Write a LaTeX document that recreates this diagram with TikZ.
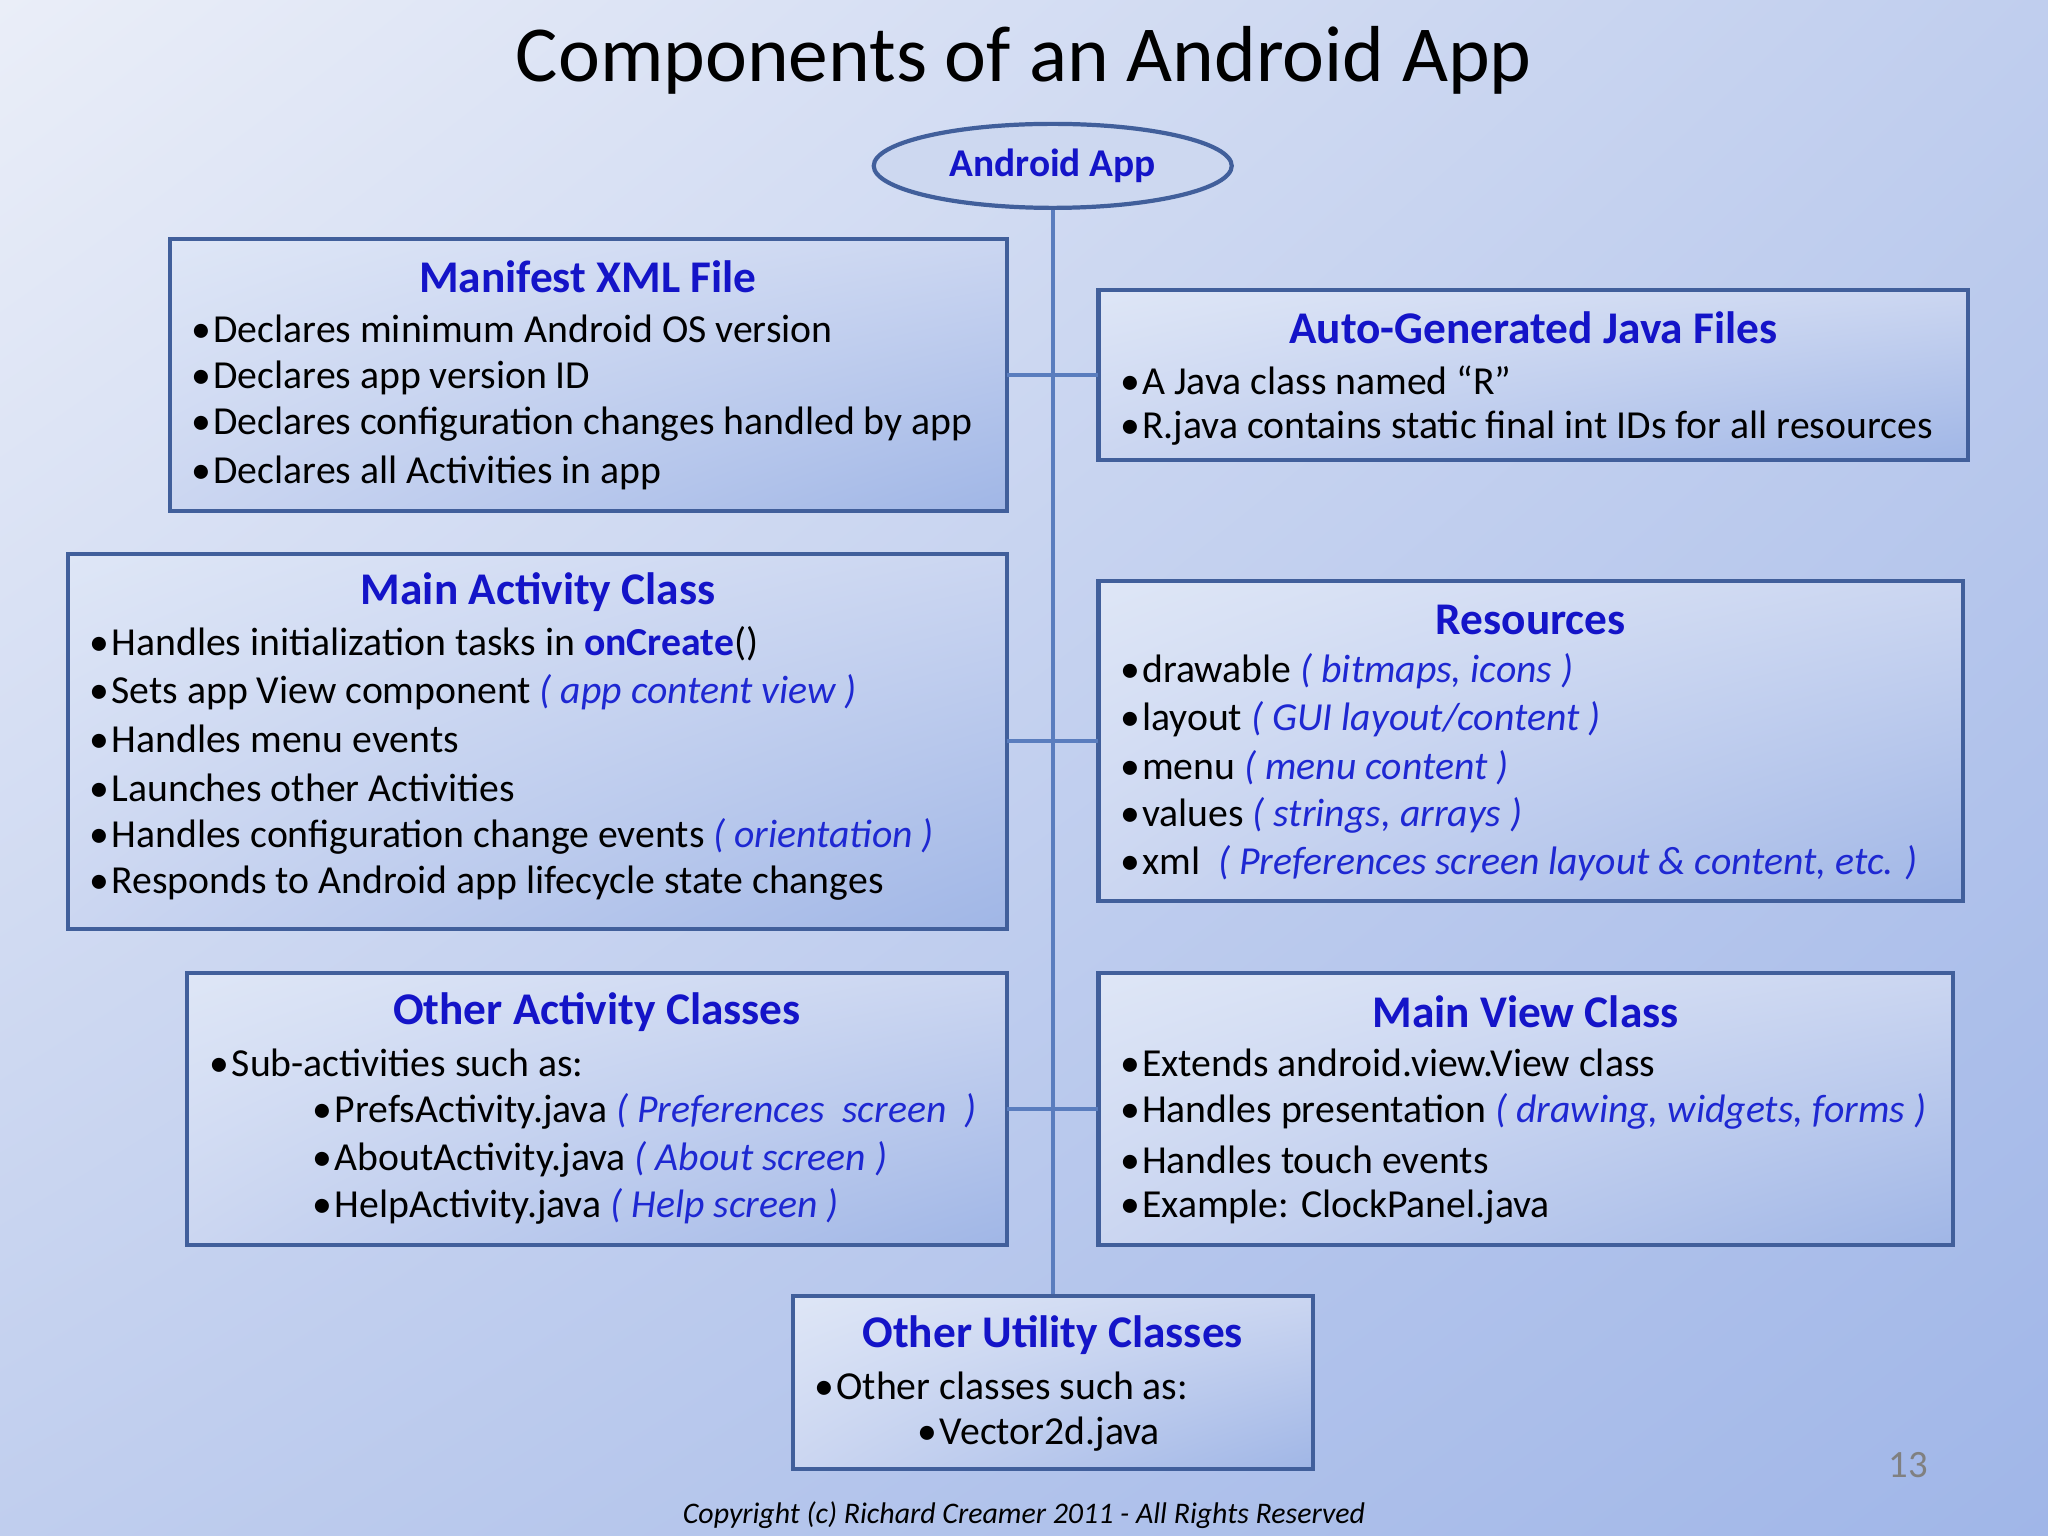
\documentclass[tikz,border=0pt]{standalone}
\usepackage{fontspec}
\usetikzlibrary{shadings,shapes.geometric}
\setmainfont{Carlito}
\definecolor{tb}{RGB}{20,20,200}
\definecolor{ib}{RGB}{30,40,210}
\definecolor{bd}{RGB}{65,95,155}
\definecolor{ln}{RGB}{90,125,190}
\definecolor{bg1}{RGB}{234,238,248}
\definecolor{bg2}{RGB}{192,206,238}
\definecolor{bg3}{RGB}{160,182,232}
\definecolor{bx1}{RGB}{222,230,246}
\definecolor{bx2}{RGB}{203,214,241}
\definecolor{bx3}{RGB}{160,182,230}
\definecolor{el}{RGB}{205,216,240}
\tikzset{
  boxsh/.style={draw=bd,line width=1.2pt,upper left=bx1,upper right=bx2,lower left=bx2,lower right=bx3},
  ttl/.style={text=tb,font=\fontsize{12.9pt}{15pt}\selectfont\bfseries,inner sep=0pt},
  txt/.style={font=\fontsize{11.3pt}{13pt}\selectfont,anchor=west,inner sep=0pt},
  conn/.style={draw=ln,line width=1.1pt}
}
\newcommand{\bu}{\makebox[6.3pt][l]{\textbullet}}
\newcommand{\ib}[1]{\textcolor{ib}{\itshape #1}}
\begin{document}
\begin{tikzpicture}[x=0.01306cm,y=-0.01306cm]
\useasboundingbox (0,0) rectangle (1568,1176);
\shade[upper left=bg1,upper right=bg2,lower left=bg2,lower right=bg3] (0,0) rectangle (1568,1176);
\node[font=\fontsize{22.6pt}{26pt}\selectfont,inner sep=0pt] (title) at (784,46) {Components of an Android App};
% trunk
\coordinate (tb) at (806,992);
\node[draw=bd,line width=1.2pt,ellipse,inner sep=0pt,fill=el,minimum width=3.58cm,minimum height=0.84cm,
  text=tb,font=\fontsize{11.2pt}{13pt}\selectfont\bfseries] (app) at (806,127) {Android App};
\draw[conn] (app.south) -- (tb);
% boxes
\shade[boxsh] (130,183) rectangle (771,391); \coordinate (b1) at (771,287);
\shade[boxsh] (841,222) rectangle (1507,352); \coordinate (b2) at (841,287);
\shade[boxsh] (52,424) rectangle (771,711); \coordinate (b3) at (771,567);
\shade[boxsh] (841,445) rectangle (1503,690); \coordinate (b4) at (841,567);
\shade[boxsh] (143,745) rectangle (771,953); \coordinate (b5) at (771,849);
\shade[boxsh] (841,745) rectangle (1495,953); \coordinate (b6) at (841,849);
\shade[boxsh] (607,992) rectangle (1005,1125);
\draw[conn] (b1) -- (b2); \draw[conn] (b3) -- (b4); \draw[conn] (b5) -- (b6);
% manifest
\node[ttl] (t1) at (450,212) {Manifest XML File};
\node[txt] (m1) at (146,252) {\bu Declares minimum Android OS version};
\node[txt] (m2) at (146,289) {\bu Declares app version ID};
\node[txt] (m3) at (146,325) {\bu Declares configuration changes handled by app};
\node[txt] (m4) at (146,362) {\bu Declares all Activities in app};
% auto
\node[ttl] (t2) at (1174,251) {Auto-Generated Java Files};
\node[txt] (a1) at (857,291) {\bu A Java class named “R”};
\node[txt] (a2) at (857,328) {\bu R.java contains static final int IDs for all resources};
% main activity
\node[ttl] (t3) at (412,453) {Main Activity Class};
\node[txt] (c1) at (68,493) {\bu Handles initialization tasks in \textcolor{tb}{\bfseries onCreate}()};
\node[txt] (c2) at (68,530) {\bu Sets app View component \ib{( app content view )}};
\node[txt] (c3) at (68,566) {\bu Handles menu events};
\node[txt] (c4) at (68,603) {\bu Launches other Activities};
\node[txt] (c5) at (68,640) {\bu Handles configuration change events \ib{( orientation )}};
\node[txt] (c6) at (68,676) {\bu Responds to Android app lifecycle state changes};
% resources
\node[ttl] (t4) at (1172,475) {Resources};
\node[txt] (r1) at (857,514) {\bu drawable \ib{( bitmaps, icons )}};
\node[txt] (r2) at (857,551) {\bu layout \ib{( GUI layout/content )}};
\node[txt] (r3) at (857,588) {\bu menu \ib{( menu content )}};
\node[txt] (r4) at (857,624) {\bu values \ib{( strings, arrays )}};
\node[txt] (r5) at (857,661) {\bu xml \ \ib{( Preferences screen layout \& content, etc. )}};
% other activity
\node[ttl] (t5) at (457,775) {Other Activity Classes};
\node[txt] (o1) at (160,814) {\bu Sub-activities such as:};
\node[txt] (o2) at (239,851) {\bu PrefsActivity.java \ib{( Preferences \ screen \ )}};
\node[txt] (o3) at (239,888) {\bu AboutActivity.java \ib{( About screen )}};
\node[txt] (o4) at (239,924) {\bu HelpActivity.java \ib{( Help screen )}};
% main view
\node[ttl] (t6) at (1168,775) {Main View Class};
\node[txt] (v1) at (857,814) {\bu Extends android.view.View class};
\node[txt] (v2) at (857,851) {\bu Handles presentation \ib{( drawing, widgets, forms )}};
\node[txt] (v3) at (857,888) {\bu Handles touch events};
\node[txt] (v4) at (857,924) {\bu Example: ClockPanel.java};
% utility
\node[ttl] (t7) at (806,1022) {Other Utility Classes};
\node[txt] (u1) at (623,1061) {\bu Other classes such as:};
\node[txt] (u2) at (702,1098) {\bu Vector2d.java};
\node[text=gray,font=\fontsize{11pt}{13pt}\selectfont,inner sep=0pt] (pg) at (1461,1122) {13};
\node[font=\fontsize{8.5pt}{10pt}\selectfont\itshape,inner sep=0pt] (cp) at (784,1160) {Copyright (c) Richard Creamer 2011 - All Rights Reserved};
\end{tikzpicture}
\end{document}
